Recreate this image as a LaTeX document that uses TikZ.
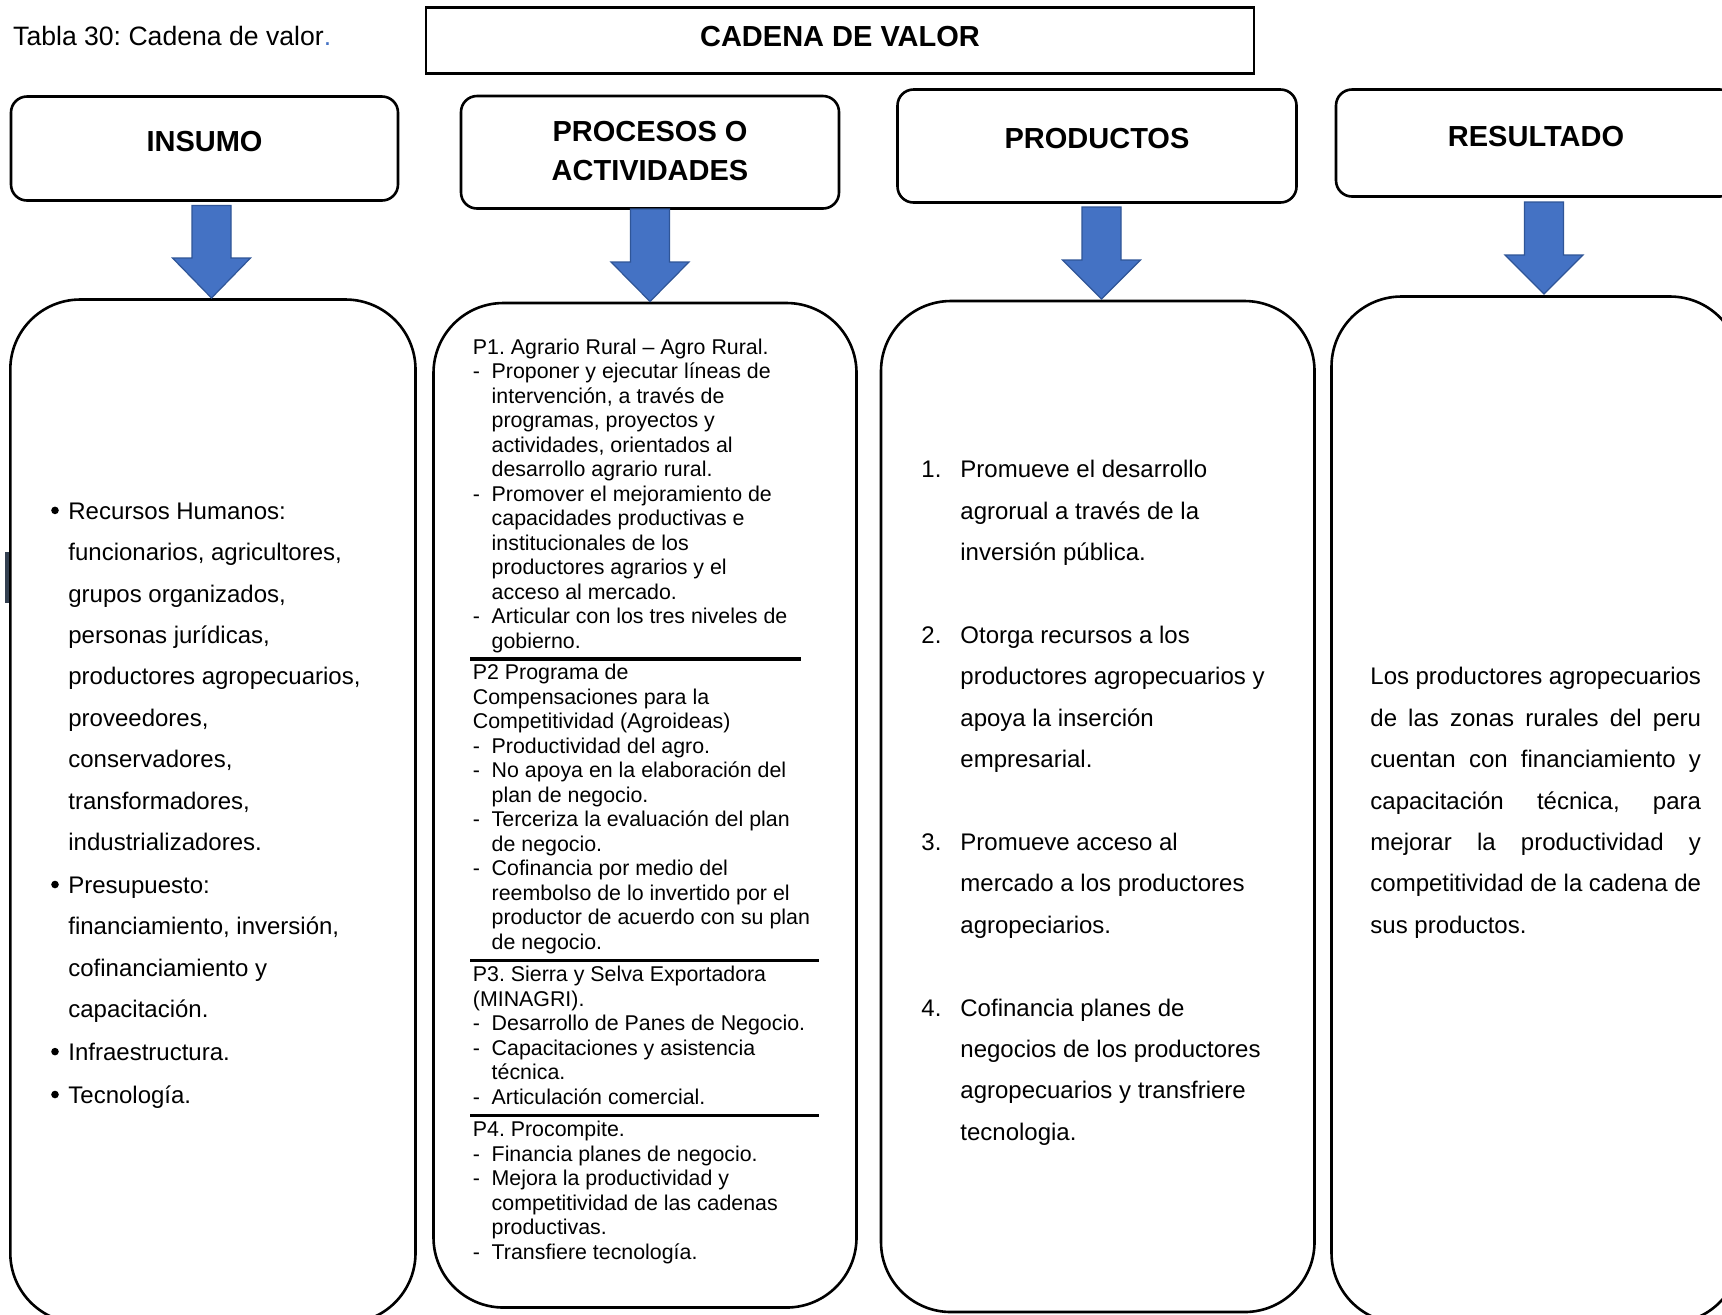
\documentclass[tikz,border=0pt]{standalone}
\usepackage{fontspec}
\setmainfont{Liberation Sans}
\frenchspacing
\definecolor{arrfill}{HTML}{4472C4}
\definecolor{arrline}{HTML}{2F5597}
\definecolor{barcol}{HTML}{333F50}
\newcommand{\ptxt}{\fontsize{10.68pt}{12.25pt}\selectfont}
\newcommand{\mtxt}{\fontsize{12pt}{20.7pt}\selectfont}
\newcommand{\htxt}{\fontsize{14.5pt}{17pt}\selectfont\bfseries}
\newcommand{\ttxt}{\fontsize{13.3pt}{16pt}\selectfont}
\newcommand{\fixsp}{\spaceskip=0pt\xspaceskip=0pt\frenchspacing}
\newcommand{\pdash}{\leavevmode\makebox[9.4pt][l]{-}}
\newcommand{\pcont}{\leavevmode\hspace*{9.4pt}}
\newcommand{\pnum}[1]{\leavevmode\llap{\makebox[19.5pt][l]{#1}}}
\newlength{\reswd}\setlength{\reswd}{165.3pt}
\newcommand{\jl}[1]{\leavevmode\makebox[\reswd][s]{#1}}
\newcommand{\blockarr}[4]{%
  \filldraw[barrow] (#1-19.5,#2) -- (#1+19.5,#2) -- (#1+19.5,#3) -- (#1+39,#3)
    -- (#1,#4) -- (#1-39,#3) -- (#1-19.5,#3) -- cycle;}
\begin{document}
\begin{tikzpicture}[x=0.5pt,y=-0.5pt,
  box/.style={draw=black, line width=1.3pt, rounded corners=35pt, inner sep=0pt, outer sep=0pt},
  hdr/.style={draw=black, line width=1.3pt, rounded corners=8pt, inner sep=0pt, outer sep=0pt},
  ttlbox/.style={draw=black, line width=1.3pt, inner sep=0pt, outer sep=0pt},
  htext/.style={font=\htxt, inner sep=0pt, anchor=base},
  ptextblk/.style={font=\ptxt, inner sep=0pt, anchor=north west, text width=190pt, align=left},
  mtextblk/.style={font=\mtxt, inner sep=0pt, anchor=north west, text width=190pt, align=left},
  barrow/.style={fill=arrfill, draw=arrline, line width=0.6pt, line join=miter},
  sep/.style={line width=1.65pt},
  bul/.style={fill=black}
]
\useasboundingbox (0,0) rectangle (1722,1314);
\fill[white] (0,0) rectangle (1722,1314);
\clip (0,0) rectangle (1722,1314);

% title
\node[font=\ttxt, anchor=base west, inner sep=0pt] (tabla) at (12.8,45.7) {Tabla 30: Cadena de valor\textcolor{arrfill}{.}};
\node[ttlbox, minimum width=414pt, minimum height=32.75pt] (title) at (840,40.5) {};
\node[htext] (titletxt) at (840,46.7) {CADENA DE VALOR};

% headers
\node[hdr, minimum width=193.5pt, minimum height=52pt] (h1) at (204.5,148.5) {};
\node[htext] (h1t) at (204.5,151.2) {INSUMO};
\node[hdr, minimum width=189pt, minimum height=56.25pt] (h2) at (650,152.25) {};
\node[htext] (h2t) at (650,141.5) {PROCESOS O};
\node[htext] (h2u) at (650,180.2) {ACTIVIDADES};
\node[hdr, minimum width=199.5pt, minimum height=56.5pt] (h3) at (1097,146) {};
\node[htext] (h3t) at (1097,148.8) {PRODUCTOS};
\node[hdr, minimum width=200pt, minimum height=53.5pt] (h4) at (1536,143) {};
\node[htext] (h4t) at (1536,146) {RESULTADO};

% big boxes
\fill[barcol] (5,552) rectangle (9.5,603);
\node[box, minimum width=202.6pt, minimum height=511.75pt] (b1) at (212.9,811.25) {};
\node[box, minimum width=211.5pt, minimum height=502.25pt] (b2) at (645,805.25) {};
\node[box, minimum width=216.75pt, minimum height=505.5pt] (b3) at (1097.75,806.5) {};
\node[box, minimum width=204.25pt, minimum height=513.25pt] (b4) at (1535.75,809.75) {};

% arrows
\blockarr{211.5}{205.5}{258}{298}
\blockarr{650}{209}{262}{301.5}
\blockarr{1101.5}{207}{260}{299}
\blockarr{1544}{202}{255}{294}

% INSUMO
\fill[bul] (55,510.4) circle[radius=1.9pt];
\fill[bul] (55,884.5) circle[radius=1.9pt];
\fill[bul] (55,1051.6) circle[radius=1.9pt];
\fill[bul] (55,1094.5) circle[radius=1.9pt];
\node[mtextblk] (ins) at (68,490) {\fixsp\strut Recursos Humanos:\\
funcionarios, agricultores,\\
grupos organizados,\\
personas jurídicas,\\
productores agropecuarios,\\
proveedores,\\
conservadores,\\
transformadores,\\
industrializadores.\\[0.75pt]
Presupuesto:\\
financiamiento, inversión,\\
cofinanciamiento y\\
capacitación.\\[0.75pt]
Infraestructura.\\[0.75pt]
Tecnología.};

% PROCESOS
\draw[sep] (470,659) -- (801,659);
\draw[sep] (470,960.7) -- (819,960.7);
\draw[sep] (470,1115.7) -- (819,1115.7);
\node[ptextblk] (p1) at (472.5,336.55) {\fixsp\strut P1. Agrario Rural – Agro Rural.\\
\pdash Proponer y ejecutar líneas de\\
\pcont intervención, a través de\\
\pcont programas, proyectos y\\
\pcont actividades, orientados al\\
\pcont desarrollo agrario rural.\\
\pdash Promover el mejoramiento de\\
\pcont capacidades productivas e\\
\pcont institucionales de los\\
\pcont productores agrarios y el\\
\pcont acceso al mercado.\\
\pdash Articular con los tres niveles de\\
\pcont gobierno.};
\node[ptextblk] (p2) at (472.5,662.25) {\fixsp\strut P2 Programa de\\
Compensaciones para la\\
Competitividad (Agroideas)\\
\pdash Productividad del agro.\\
\pdash No apoya en la elaboración del\\
\pcont plan de negocio.\\
\pdash Terceriza la evaluación del plan\\
\pcont de negocio.\\
\pdash Cofinancia por medio del\\
\pcont reembolso de lo invertido por el\\
\pcont productor de acuerdo con su plan\\
\pcont de negocio.};
\node[ptextblk] (p3) at (472.5,964.25) {\fixsp\strut P3. Sierra y Selva Exportadora\\
(MINAGRI).\\
\pdash Desarrollo de Panes de Negocio.\\
\pdash Capacitaciones y asistencia\\
\pcont técnica.\\
\pdash Articulación comercial.};
\node[ptextblk] (p4) at (472.5,1119.25) {\fixsp\strut P4. Procompite.\\
\pdash Financia planes de negocio.\\
\pdash Mejora la productividad y\\
\pcont competitividad de las cadenas\\
\pcont productivas.\\
\pdash Transfiere tecnología.};

% PRODUCTOS
\node[mtextblk] (prod) at (960,448.5) {\fixsp\strut\pnum{1.}Promueve el desarrollo\\
agrorual a través de la\\
inversión pública.\\
\mbox{}\\
\pnum{2.}Otorga recursos a los\\
productores agropecuarios y\\
apoya la inserción\\
empresarial.\\
\mbox{}\\
\pnum{3.}Promueve acceso al\\
mercado a los productores\\
agropeciarios.\\
\mbox{}\\
\pnum{4.}Cofinancia planes de\\
negocios de los productores\\
agropecuarios y transfriere\\
tecnologia.};

% RESULTADO
\node[mtextblk, text width=170pt] (res) at (1370,655.5) {\fixsp\strut\jl{Los\hfill productores\hfill agropecuarios}\\
\jl{de\hfill las\hfill zonas\hfill rurales\hfill del\hfill peru}\\
\jl{cuentan\hfill con\hfill financiamiento\hfill y}\\
\jl{capacitación\hfill técnica,\hfill para}\\
\jl{mejorar\hfill la\hfill productividad\hfill y}\\
\jl{competitividad\hfill de\hfill la\hfill cadena\hfill de}\\
sus productos.};
\end{tikzpicture}
\end{document}
